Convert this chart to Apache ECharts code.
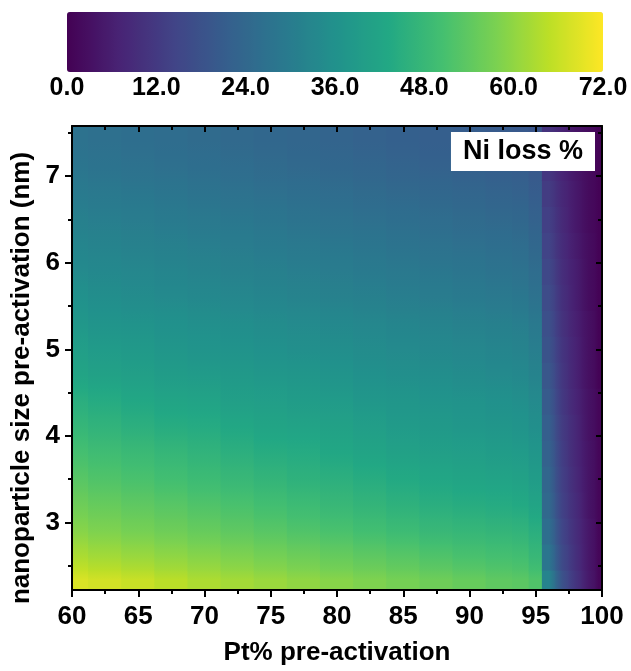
<!DOCTYPE html>
<html><head><meta charset="utf-8">
<script src="https://cdn.jsdelivr.net/npm/echarts@6/dist/echarts.min.js"></script>
<style>html,body{margin:0;padding:0;background:#fff}#c{width:631px;height:671px}</style>
</head><body><div id="c"></div>
<script>
// Pt% pre-activation (column centres)
const ptPercent = [60, 62.5, 65, 67.5, 70, 72.5, 75, 77.5, 80, 82.5, 85, 87.5, 90, 92.5, 94, 95, 96, 97, 98, 99, 100];
// nanoparticle size pre-activation, nm (row centres)
const sizeNm = [2.3, 2.6, 2.9, 3.2, 3.5, 3.8, 4.1, 4.4, 4.7, 5.0, 5.3, 5.6, 5.9, 6.2, 6.5, 6.8, 7.1, 7.4];
// Ni loss % ; one list per Pt% column, bottom (small size) to top
const loss60   = [68, 63, 59, 56, 53, 50.5, 47.5, 45, 42, 40, 38, 36, 34, 32.5, 31, 29.5, 28, 27];
const loss62_5 = [67, 62, 58, 55, 52, 49.5, 46.5, 44, 41, 39, 37, 35, 33.5, 32, 30.5, 29, 27.5, 26.5];
const loss65   = [66, 61, 57, 54, 51, 48.5, 45.5, 43, 40.5, 38.5, 36.5, 34.5, 33, 31.5, 30, 28.5, 27, 26];
const loss67_5 = [64.5, 60, 56, 53, 50, 47.5, 44.5, 42, 39.5, 37.5, 36, 34, 32.5, 31, 29.5, 28, 26.5, 25.5];
const loss70   = [63, 59, 55, 52, 49, 46.5, 44, 41.5, 39, 37, 35.5, 33.5, 32, 30.5, 29, 27.5, 26, 25];
const loss72_5 = [62, 58, 54, 51, 48, 45.5, 43, 40.5, 38.5, 36.5, 35, 33, 31.5, 30, 28.5, 27, 25.5, 24.5];
const loss75   = [61, 57, 53, 50, 47, 44.5, 42, 40, 38, 36, 34.5, 32.5, 31, 29.5, 28, 26.5, 25, 24];
const loss77_5 = [60, 56, 52, 49, 46, 44, 41.5, 39.5, 37.5, 35.5, 34, 32, 30.5, 29, 27.5, 26, 24.5, 23.5];
const loss80   = [59, 55, 51, 48, 45.5, 43, 41, 39, 37, 35, 33.5, 31.5, 30, 28.5, 27, 25.5, 24, 23];
const loss82_5 = [58, 54, 50, 47, 44.5, 42, 40, 38, 36, 34.5, 33, 31, 29.5, 28, 26.5, 25, 23.5, 22.5];
const loss85   = [57, 53, 49, 46, 43.5, 41, 39, 37.5, 35.5, 34, 32.5, 30.5, 29, 27.5, 26, 24.5, 23, 22];
const loss87_5 = [56, 52, 48, 45, 42.5, 40.5, 38.5, 37, 35, 33.5, 32, 30, 28.5, 27, 25.5, 24, 22.5, 21.5];
const loss90   = [55, 51, 47.5, 44.5, 42, 40, 38, 36.5, 34.5, 33, 31.5, 29.5, 28, 26.5, 25, 23.5, 22, 21];
const loss92_5 = [54, 50.5, 47, 44, 41.5, 39.5, 37.5, 36, 34, 32.5, 31, 29, 27.5, 26, 24.5, 23, 21.5, 20.5];
const loss94   = [53.5, 50, 46.5, 43.5, 41, 39, 37, 35.5, 33.5, 32, 30.5, 28.5, 27, 25.5, 24, 22.5, 21, 20];
const loss95   = [52, 48, 45, 42, 39.5, 37.5, 35.5, 34, 32, 30.5, 29, 27, 25.5, 24, 22.5, 21, 20, 19];
const loss96   = [32, 28, 26, 24.5, 23.5, 22.5, 21.5, 20.5, 19.5, 18.5, 17.5, 16.5, 15.5, 14.5, 13.5, 12.5, 11.5, 10.5];
const loss97   = [18, 16, 15, 14, 13.5, 13, 12.5, 12, 11.5, 11, 10.5, 10, 9.5, 9, 8.5, 8, 7.5, 7];
const loss98   = [11, 10, 9.5, 9, 8.5, 8, 8, 7.5, 7, 7, 6.5, 6, 6, 5.5, 5, 5, 4.5, 4];
const loss99   = [5, 4.5, 4.5, 4, 4, 4, 3.5, 3.5, 3, 3, 3, 2.5, 2.5, 2.5, 2, 2, 2, 2];
const loss100  = [1, 1, 1, 1, 1, 1, 1, 1, 0.5, 0.5, 0.5, 0.5, 0.5, 0.5, 0.5, 0.5, 0.5, 0.5];
const lossColumns = [loss60, loss62_5, loss65, loss67_5, loss70, loss72_5, loss75, loss77_5, loss80, loss82_5,
  loss85, loss87_5, loss90, loss92_5, loss94, loss95, loss96, loss97, loss98, loss99, loss100];

const yMajorTicks = [3, 4, 5, 6, 7];
const yMinorTicks = [2.5, 3.5, 4.5, 5.5, 6.5, 7.5];
const X_MIN = 60, X_MAX = 100, X_STEP = 5;
const Y_MIN = 2.22, Y_MAX = 7.58;
const C_MIN = 0, C_MAX = 72, C_STEP = 12;
const STEEP_EDGE_PT = 95; // beyond this Pt% the colour changes mostly along x

const viridis = ['#440154','#482475','#414487','#355f8d','#2a788e','#21918c','#22a884','#44bf70','#7ad151','#bddf26','#fde725'];
const FONT = "'Liberation Sans', Arial, sans-serif";

const data = [];
ptPercent.forEach((x, i) => sizeNm.forEach((y, j) => data.push([x, y, lossColumns[i][j]])));

function cellBounds(arr, k, lo, hi) {
  const a = k === 0 ? lo : (arr[k - 1] + arr[k]) / 2;
  const b = k === arr.length - 1 ? hi : (arr[k] + arr[k + 1]) / 2;
  return [a, b];
}
// colour of a value on the colour scale (same stops as the visualMap)
const colorOf = v => echarts.color.lerp(Math.max(0, Math.min(1, (v - C_MIN) / (C_MAX - C_MIN))), viridis);

const chart = echarts.init(document.getElementById('c'), null, {renderer: 'canvas'});
const axisLine = {show: true, lineStyle: {color: '#000', width: 2}};
const tickStyle = {color: '#000', width: 2};

chart.setOption({
  animation: false,
  backgroundColor: '#fff',
  textStyle: {fontFamily: FONT},
  title: {
    text: 'Ni loss %', right: 36, top: 132, backgroundColor: '#fff', padding: [6, 12, 6, 12],
    textStyle: {fontSize: 27, fontWeight: 'bold', color: '#000', fontFamily: FONT}
  },
  visualMap: {
    type: 'continuous', min: C_MIN, max: C_MAX, seriesIndex: 0, dimension: 2,
    orient: 'horizontal', left: 67, top: 12, itemWidth: 60, itemHeight: 536,
    calculable: false, hoverLink: false, padding: 0, text: null,
    inRange: {color: viridis}
  },
  grid: [
    {left: 72, top: 126, width: 530, height: 468},
    {left: 67, top: 72, width: 536, height: 1}
  ],
  xAxis: [
    {type: 'value', gridIndex: 0, position: 'bottom', min: X_MIN, max: X_MAX, interval: X_STEP, z: 10,
     axisLine, axisTick: {show: true, inside: false, length: 7, lineStyle: tickStyle},
     minorTick: {show: true, splitNumber: 2, length: 4, lineStyle: tickStyle},
     splitLine: {show: false}, minorSplitLine: {show: false},
     axisLabel: {fontSize: 26, fontWeight: 'bold', color: '#000', margin: 14, fontFamily: FONT},
     name: 'Pt% pre-activation', nameLocation: 'middle', nameGap: 50,
     nameTextStyle: {fontSize: 26, fontWeight: 'bold', color: '#000', fontFamily: FONT}},
    {type: 'value', gridIndex: 0, position: 'top', min: X_MIN, max: X_MAX, interval: X_STEP, z: 10,
     axisLine, axisTick: {show: true, inside: true, length: 6, lineStyle: tickStyle},
     minorTick: {show: true, splitNumber: 2, length: 4, lineStyle: tickStyle},
     splitLine: {show: false}, axisLabel: {show: false}},
    {type: 'value', gridIndex: 1, min: C_MIN, max: C_MAX, interval: C_STEP,
     axisLine: {show: false}, axisTick: {show: false}, splitLine: {show: false},
     axisLabel: {fontSize: 25, fontWeight: 'bold', color: '#000', margin: 3, fontFamily: FONT,
                 formatter: v => v.toFixed(1)}}
  ],
  yAxis: [
    {type: 'value', gridIndex: 0, position: 'left', min: Y_MIN, max: Y_MAX, z: 10,
     axisLine, axisTick: {show: true, inside: false, length: 7, lineStyle: tickStyle, customValues: yMajorTicks},
     splitLine: {show: false},
     axisLabel: {fontSize: 26, fontWeight: 'bold', color: '#000', margin: 12, fontFamily: FONT, customValues: yMajorTicks},
     name: 'nanoparticle size pre-activation (nm)', nameLocation: 'middle', nameGap: 36,
     nameTextStyle: {fontSize: 26, fontWeight: 'bold', color: '#000', fontFamily: FONT, padding: [0, 40, 0, 0]}},
    {type: 'value', gridIndex: 0, position: 'left', min: Y_MIN, max: Y_MAX, z: 10,
     axisLine: {show: false}, axisTick: {show: true, inside: false, length: 4, lineStyle: tickStyle, customValues: yMinorTicks},
     splitLine: {show: false}, axisLabel: {show: false}},
    {type: 'value', gridIndex: 0, position: 'right', min: Y_MIN, max: Y_MAX, z: 10,
     axisLine, axisTick: {show: true, inside: true, length: 6, lineStyle: tickStyle, customValues: yMajorTicks},
     splitLine: {show: false}, axisLabel: {show: false}},
    {type: 'value', gridIndex: 0, position: 'right', min: Y_MIN, max: Y_MAX, z: 10,
     axisLine: {show: false}, axisTick: {show: true, inside: true, length: 4, lineStyle: tickStyle, customValues: yMinorTicks},
     splitLine: {show: false}, axisLabel: {show: false}},
    {type: 'value', gridIndex: 1, show: false, min: 0, max: 1}
  ],
  series: [{
    type: 'custom', xAxisIndex: 0, yAxisIndex: 0, clip: true, data,
    encode: {x: 0, y: 1},
    renderItem: (params, api) => {
      const idx = params.dataIndex;
      const i = Math.floor(idx / sizeNm.length), j = idx % sizeNm.length;
      const col = lossColumns[i];
      const [x0, x1] = cellBounds(ptPercent, i, X_MIN, X_MAX);
      const [y0, y1] = cellBounds(sizeNm, j, Y_MIN, Y_MAX);
      const p0 = api.coord([x0, y1]);
      const p1 = api.coord([x1, y0]);
      const v = col[j];
      let fill;
      if (ptPercent[i] > STEEP_EDGE_PT) {
        // shade along x between shared edges with left/right neighbours
        const first = ptPercent[i - 1] <= STEEP_EDGE_PT;
        const vLeft = first ? v : (lossColumns[i - 1][j] + v) / 2;
        const vRight = i === lossColumns.length - 1 ? v : (lossColumns[i + 1][j] + v) / 2;
        fill = new echarts.graphic.LinearGradient(0, 0, 1, 0, [
          {offset: 0, color: colorOf(vLeft)},
          {offset: 0.5, color: api.visual('color')},
          {offset: 1, color: colorOf(vRight)}
        ]);
      } else {
        // shade along y between shared edges with the cells below and above
        const vBottom = j === 0 ? v : (col[j - 1] + v) / 2;
        const vTop = j === col.length - 1 ? v : (col[j + 1] + v) / 2;
        fill = new echarts.graphic.LinearGradient(0, 1, 0, 0, [
          {offset: 0, color: colorOf(vBottom)},
          {offset: 0.5, color: api.visual('color')},
          {offset: 1, color: colorOf(vTop)}
        ]);
      }
      return {type: 'rect',
              shape: {x: p0[0] - 0.5, y: p0[1] - 0.5, width: p1[0] - p0[0] + 1, height: p1[1] - p0[1] + 1},
              style: {fill}};
    }
  }]
});
</script></body></html>
